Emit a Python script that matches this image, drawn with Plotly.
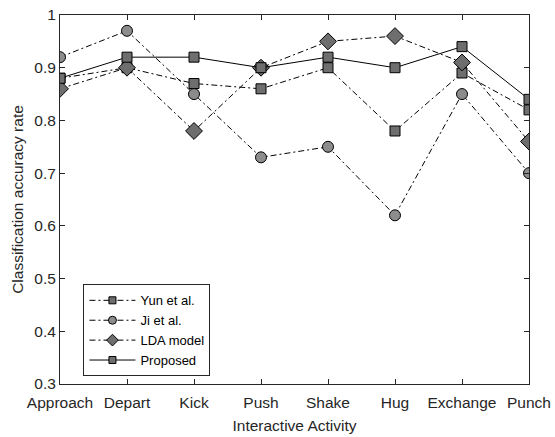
import plotly.graph_objects as go

categories = ["Approach", "Depart", "Kick", "Push", "Shake", "Hug", "Exchange", "Punch"]
yun = [0.88, 0.90, 0.87, 0.86, 0.90, 0.78, 0.89, 0.82]
ji = [0.92, 0.97, 0.85, 0.73, 0.75, 0.62, 0.85, 0.70]
lda = [0.86, 0.90, 0.78, 0.90, 0.95, 0.96, 0.91, 0.76]
proposed = [0.88, 0.92, 0.92, 0.90, 0.92, 0.90, 0.94, 0.84]

DASHDOT = "6px,3px,2px,3px"
series = [
    ("Yun et al.", yun, "square", DASHDOT, "#6e6e6e", 10, 7),
    ("Ji et al.", ji, "circle", DASHDOT, "#8c8c8c", 11, 8),
    ("LDA model", lda, "diamond", DASHDOT, "#6e6e6e", 13, 9),
    ("Proposed", proposed, "square", "solid", "#6e6e6e", 10, 7),
]

FONT = "Liberation Sans, Arial, Helvetica"

fig = go.Figure()
for name, vals, sym, dash, col, size, lsize in series:
    fig.add_trace(go.Scatter(
        x=categories, y=vals, name=name, mode="lines+markers", showlegend=False,
        legendgroup=name,
        line=dict(color="black", width=1, dash=dash),
        marker=dict(symbol=sym, size=size, color=col, line=dict(color="black", width=1)),
    ))
for name, vals, sym, dash, col, size, lsize in series:
    fig.add_trace(go.Scatter(
        x=[None], y=[None], name=name, mode="lines+markers", legendgroup=name,
        line=dict(color="black", width=1, dash=dash),
        marker=dict(symbol=sym, size=lsize, color=col, line=dict(color="black", width=1)),
    ))

axis_common = dict(
    showgrid=False, zeroline=False, showline=True, linecolor="#262626", linewidth=1,
    mirror="ticks", ticks="inside", ticklen=5, tickcolor="#262626",
    tickfont=dict(family=FONT, size=15.5, color="#262626"),
)
fig.update_xaxes(
    type="category", categoryorder="array", categoryarray=categories,
    range=[0, 7], ticklabelstandoff=4,
    title=dict(text="Interactive Activity", standoff=10,
               font=dict(family=FONT, size=15.5, color="#262626")),
    **axis_common,
)
fig.update_yaxes(
    range=[0.3, 1], dtick=0.1, tick0=0.3,
    title=dict(text="Classification accuracy rate", standoff=6,
               font=dict(family=FONT, size=15.5, color="#262626")),
    **axis_common,
)
fig.update_layout(
    width=555, height=437,
    margin=dict(l=60, r=26, t=15, b=53, autoexpand=False),
    plot_bgcolor="white", paper_bgcolor="white",
    legend=dict(x=0.05, y=0.27, xanchor="left", yanchor="top",
                bordercolor="#262626", borderwidth=1, bgcolor="white",
                font=dict(family=FONT, size=13, color="black"),
                tracegroupgap=0, itemwidth=46),
    showlegend=True,
)
fig.write_html("out.html", config={"displayModeBar": False},
               post_script="document.body.style.margin='0';document.body.style.padding='0';")
